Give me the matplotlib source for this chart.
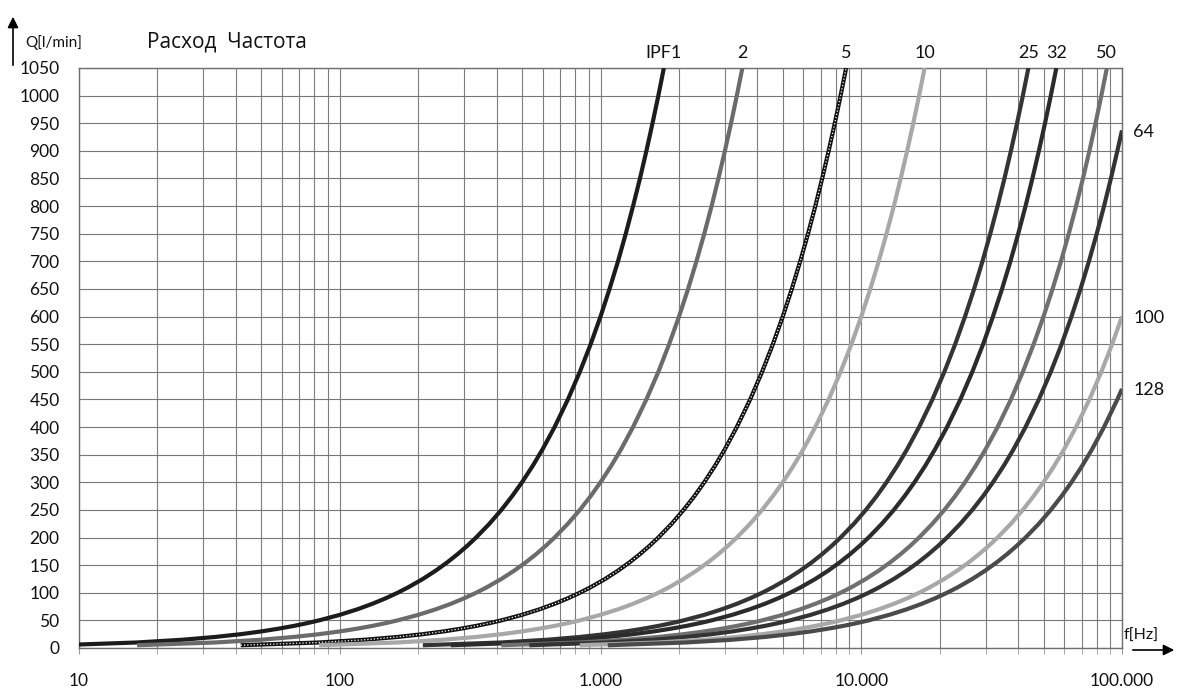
import matplotlib
matplotlib.use("Agg")
import matplotlib.pyplot as plt
from matplotlib.patches import FancyArrowPatch
from matplotlib.ticker import FixedLocator, NullFormatter

# ---------------- data ----------------
# flow levels (l/min) at which the frequency of each curve was read
flow_levels = [5, 10, 15, 20, 25, 30, 35, 40, 45, 50, 60, 70, 80, 90, 100, 110, 125,
               140, 155, 170, 185, 200, 225, 250, 275, 300, 330, 360, 400, 450, 500,
               550, 600, 650, 700, 750, 800, 850, 900, 950, 1000, 1050]

# frequency (Hz) where each curve reaches the flow levels above
freq_ipf1 = [8.3, 16.7, 25, 33.3, 41.7, 50, 58.3, 66.7, 75, 83.3, 100, 116.7, 133.3,
             150, 166.7, 183.3, 208.3, 233.3, 258.3, 283.3, 308.3, 333.3, 375, 416.7,
             458.3, 500, 550, 600, 666.7, 750, 833.3, 916.7, 1000, 1083, 1167, 1250,
             1333, 1417, 1500, 1583, 1667, 1750]
freq_ipf2 = [16.7, 33.3, 50, 66.7, 83.3, 100, 116.7, 133.3, 150, 166.7, 200, 233.3,
             266.7, 300, 333.3, 366.7, 416.7, 466.7, 516.7, 566.7, 616.7, 666.7, 750,
             833.3, 916.7, 1000, 1100, 1200, 1333, 1500, 1667, 1833, 2000, 2167, 2333,
             2500, 2667, 2833, 3000, 3167, 3333, 3500]
freq_ipf5 = [41.7, 83.3, 125, 166.7, 208.3, 250, 291.7, 333.3, 375, 416.7, 500, 583.3,
             666.7, 750, 833.3, 916.7, 1042, 1167, 1292, 1417, 1542, 1667, 1875, 2083,
             2292, 2500, 2750, 3000, 3333, 3750, 4167, 4583, 5000, 5417, 5833, 6250,
             6667, 7083, 7500, 7917, 8333, 8750]
freq_ipf10 = [83.3, 166.7, 250, 333.3, 416.7, 500, 583.3, 666.7, 750, 833.3, 1000, 1167,
              1333, 1500, 1667, 1833, 2083, 2333, 2583, 2833, 3083, 3333, 3750, 4167,
              4583, 5000, 5500, 6000, 6667, 7500, 8333, 9167, 10000, 10833, 11667,
              12500, 13333, 14167, 15000, 15833, 16667, 17500]
freq_ipf25 = [208.3, 416.7, 625, 833.3, 1042, 1250, 1458, 1667, 1875, 2083, 2500, 2917,
              3333, 3750, 4167, 4583, 5208, 5833, 6458, 7083, 7708, 8333, 9375, 10417,
              11458, 12500, 13750, 15000, 16667, 18750, 20833, 22917, 25000, 27083,
              29167, 31250, 33333, 35417, 37500, 39583, 41667, 43750]
freq_ipf32 = [266.7, 533.3, 800, 1067, 1333, 1600, 1867, 2133, 2400, 2667, 3200, 3733,
              4267, 4800, 5333, 5867, 6667, 7467, 8267, 9067, 9867, 10667, 12000, 13333,
              14667, 16000, 17600, 19200, 21333, 24000, 26667, 29333, 32000, 34667,
              37333, 40000, 42667, 45333, 48000, 50667, 53333, 56000]
freq_ipf50 = [416.7, 833.3, 1250, 1667, 2083, 2500, 2917, 3333, 3750, 4167, 5000, 5833,
              6667, 7500, 8333, 9167, 10417, 11667, 12917, 14167, 15417, 16667, 18750,
              20833, 22917, 25000, 27500, 30000, 33333, 37500, 41667, 45833, 50000,
              54167, 58333, 62500, 66667, 70833, 75000, 79167, 83333, 87500]
freq_ipf64 = [533.3, 1067, 1600, 2133, 2667, 3200, 3733, 4267, 4800, 5333, 6400, 7467,
              8533, 9600, 10667, 11733, 13333, 14933, 16533, 18133, 19733, 21333, 24000,
              26667, 29333, 32000, 35200, 38400, 42667, 48000, 53333, 58667, 64000,
              69333, 74667, 80000, 85333, 90667, 96000]
freq_ipf100 = [833.3, 1667, 2500, 3333, 4167, 5000, 5833, 6667, 7500, 8333, 10000,
               11667, 13333, 15000, 16667, 18333, 20833, 23333, 25833, 28333, 30833,
               33333, 37500, 41667, 45833, 50000, 55000, 60000, 66667, 75000, 83333,
               91667, 100000]
freq_ipf128 = [1067, 2133, 3200, 4267, 5333, 6400, 7467, 8533, 9600, 10667, 12800,
               14933, 17067, 19200, 21333, 23467, 26667, 29867, 33067, 36267, 39467,
               42667, 48000, 53333, 58667, 64000, 70400, 76800, 85333, 96000]

# flow at the right edge (100.000 Hz) for curves that stop there below 1050
end_flow_ipf64 = 937
end_flow_ipf128 = 469

series_labels = ["IPF1", "2", "5", "10", "25", "32", "50", "64", "100", "128"]
series_colors = ["#1c1c1c", "#6b6b6b", "#111111", "#a8a8a8", "#343434",
                 "#2b2b2b", "#6f6f6f", "#333333", "#a8a8a8", "#4a4a4a"]

x_tick_values = [10, 100, 1000, 10000, 100000]
x_tick_labels = ["10", "100", "1.000", "10.000", "100.000"]
y_tick_values = list(range(0, 1051, 50))

# ---------------- figure ----------------
W, H = 1178, 688
fig = plt.figure(figsize=(W / 100, H / 100), dpi=100)
L, R, T, B = 79, 1122, 68, 648
ax = fig.add_axes([L / W, 1 - B / H, (R - L) / W, (B - T) / H])
ax.set_xscale("log")
ax.set_xlim(10, 100000)
ax.set_ylim(0, 1050)

axis_font = "Lato"
ax.xaxis.set_major_locator(FixedLocator(x_tick_values))
ax.set_xticklabels(x_tick_labels)
minor = [m * 10 ** d for d in range(1, 5) for m in range(2, 10)]
ax.xaxis.set_minor_locator(FixedLocator(minor))
ax.xaxis.set_minor_formatter(NullFormatter())
ax.set_yticks(y_tick_values)
ax.set_yticklabels([str(v) for v in y_tick_values])

ax.grid(which="both", axis="x", color="#7e7e7e", lw=0.8)
ax.grid(which="major", axis="y", color="#777777", lw=0.8)
ax.set_axisbelow(True)
for s in ax.spines.values():
    s.set_color("#6e6e6e")
    s.set_linewidth(1.0)

ax.tick_params(axis="y", length=0, pad=14, labelsize=12.5, labelcolor="#111111")
ax.tick_params(axis="x", which="both", length=4, color="#9a9a9a", pad=14,
               labelsize=12.5, labelcolor="#111111")
for lab in ax.get_xticklabels() + ax.get_yticklabels():
    lab.set_fontfamily(axis_font)

freq_lists = [freq_ipf1, freq_ipf2, freq_ipf5, freq_ipf10, freq_ipf25, freq_ipf32,
              freq_ipf50, freq_ipf64, freq_ipf100, freq_ipf128]
end_flows = {7: end_flow_ipf64, 9: end_flow_ipf128}

for i, (fl, lab, col) in enumerate(zip(freq_lists, series_labels, series_colors)):
    f = list(fl)
    q = flow_levels[:len(fl)]
    if i in end_flows:
        f = f + [100000]
        q = q + [end_flows[i]]
    ax.plot(f, q, color=col, lw=3.0, solid_capstyle="butt", solid_joinstyle="round",
            zorder=3 + i * 0.1)
    if i == 2:
        ax.plot(f, q, color="white", lw=0.9, ls=(0, (1, 1.6)),
                zorder=3 + i * 0.1 + 0.05)
    if q[-1] >= 1050:
        ax.annotate(lab, xy=(f[-1], 1050), xytext=(0, 5), textcoords="offset points",
                    ha="center", va="bottom", fontsize=13, fontfamily=axis_font,
                    color="#111111", annotation_clip=False)
    else:
        ax.annotate(lab, xy=(f[-1], q[-1]), xytext=(8, -1), textcoords="offset points",
                    ha="left", va="center", fontsize=13, fontfamily=axis_font,
                    color="#111111", annotation_clip=False)

# titles and axis names
fig.text(147 / W, 1 - 42 / H, "Расход  Частота", fontsize=15, fontfamily="Open Sans",
         ha="left", va="center", color="#111111")
fig.text(25 / W, 1 - 43 / H, "Q[l/min]", fontsize=11, fontfamily=axis_font,
         ha="left", va="center", color="#111111")
fig.text(1124 / W, 1 - 636 / H, "f[Hz]", fontsize=11.5, fontfamily=axis_font,
         ha="left", va="center", color="#111111")

# axis arrows
fig.add_artist(FancyArrowPatch(
    (13 / W, 1 - 68 / H), (13 / W, 1 - 14 / H), transform=fig.transFigure,
    arrowstyle="-|>", mutation_scale=16, lw=1.2, color="black"))
fig.add_artist(FancyArrowPatch(
    (1130 / W, 1 - 650 / H), (1177 / W, 1 - 650 / H), transform=fig.transFigure,
    arrowstyle="-|>", mutation_scale=16, lw=1.2, color="black"))

fig.savefig("out.png", dpi=100)
